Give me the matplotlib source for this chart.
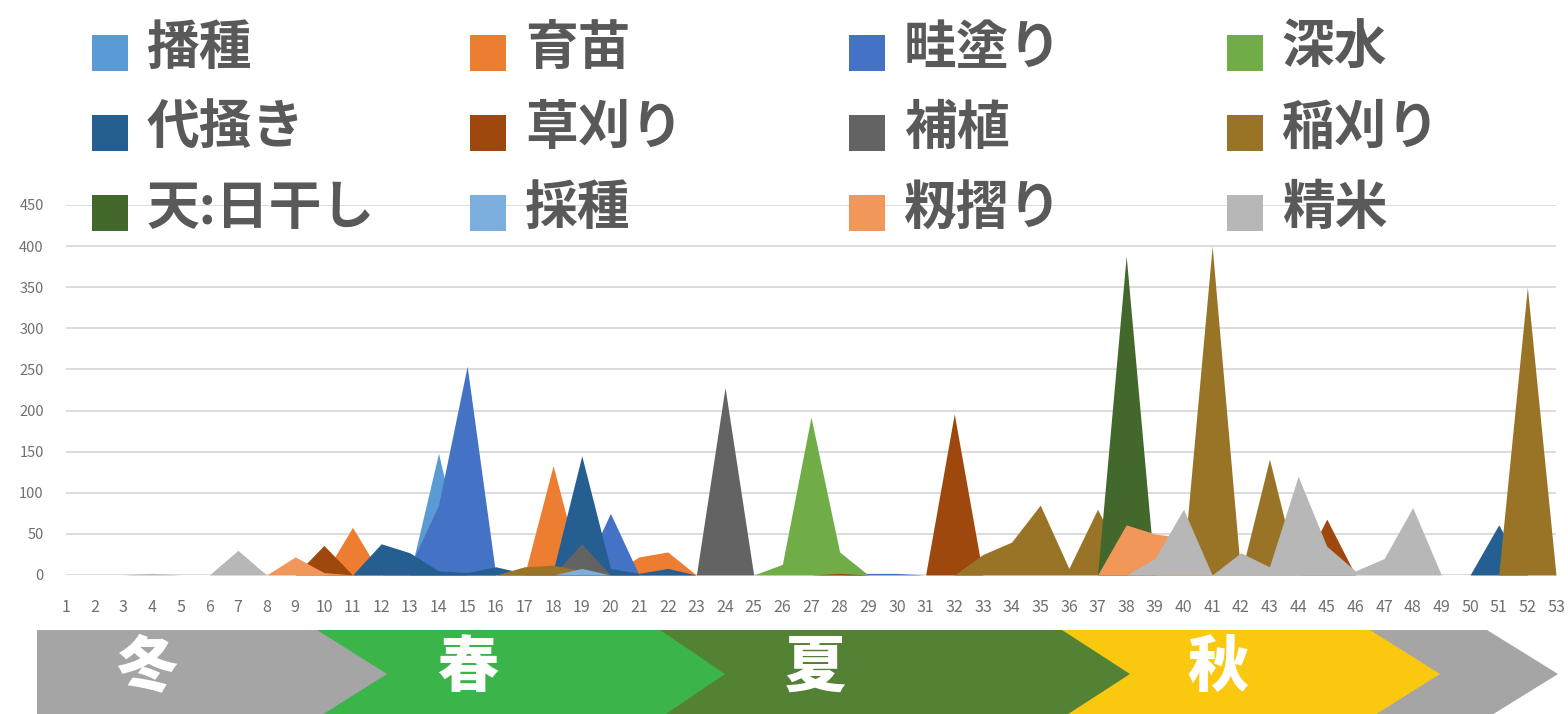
import numpy as np
import matplotlib
matplotlib.use("Agg")
from matplotlib import pyplot as plt
from matplotlib.patches import Polygon, Rectangle

plt.rcParams["font.family"] = ["Noto Sans CJK JP", "DejaVu Sans"]

weeks = np.arange(1, 54)

# weekly workload per task, weeks 1..53 (ten weeks per line)
sowing = [0, 0, 0, 0, 0, 0, 0, 0, 0, 0,
          0, 0, 0, 148, 0, 0, 0, 0, 0, 0,
          0, 0, 0, 0, 0, 0, 0, 0, 0, 0,
          0, 0, 0, 0, 0, 0, 0, 0, 0, 0,
          0, 0, 0, 0, 0, 0, 0, 0, 0, 0,
          0, 0, 0]
nursery = [0, 0, 0, 0, 0, 0, 0, 0, 0, 0,
           58, 0, 0, 0, 0, 0, 0, 133, 0, 0,
           22, 28, 0, 0, 0, 0, 0, 0, 0, 0,
           0, 0, 0, 0, 0, 0, 0, 0, 0, 0,
           0, 0, 0, 0, 0, 0, 0, 0, 0, 0,
           0, 0, 0]
levee = [0, 0, 0, 0, 0, 0, 0, 0, 0, 0,
         0, 0, 10, 85, 254, 0, 0, 0, 0, 75,
         0, 0, 0, 0, 0, 0, 0, 0, 2, 2,
         0, 0, 0, 0, 0, 0, 0, 0, 0, 0,
         0, 0, 0, 0, 0, 0, 0, 0, 0, 0,
         0, 0, 0]
deep_water = [0, 0, 0, 0, 0, 0, 0, 0, 0, 0,
              0, 0, 0, 0, 0, 0, 0, 0, 0, 0,
              0, 0, 0, 0, 0, 13, 192, 28, 0, 0,
              0, 0, 0, 0, 0, 0, 0, 0, 0, 0,
              0, 0, 0, 0, 0, 0, 0, 0, 0, 0,
              0, 0, 0]
puddling = [0, 0, 0, 0, 0, 0, 0, 0, 0, 0,
            0, 38, 27, 5, 3, 10, 2, 5, 145, 8,
            2, 8, 0, 0, 0, 0, 0, 0, 0, 0,
            0, 0, 0, 0, 0, 0, 0, 0, 0, 0,
            0, 0, 0, 0, 0, 0, 0, 0, 0, 0,
            61, 0, 0]
weeding = [0, 0, 0, 0, 0, 0, 0, 0, 0, 36,
           0, 0, 0, 0, 0, 0, 0, 0, 0, 0,
           0, 0, 0, 0, 0, 0, 0, 2, 0, 0,
           0, 196, 0, 0, 0, 0, 0, 0, 0, 0,
           0, 0, 0, 0, 68, 0, 0, 0, 0, 0,
           0, 0, 0]
replanting = [0, 0, 0, 0, 0, 0, 0, 0, 0, 0,
              0, 0, 0, 0, 0, 0, 0, 0, 38, 0,
              0, 0, 0, 228, 0, 0, 0, 0, 0, 0,
              0, 0, 0, 0, 0, 0, 0, 0, 0, 0,
              0, 0, 0, 0, 0, 0, 0, 0, 0, 0,
              0, 0, 0]
harvest = [0, 0, 0, 0, 0, 0, 0, 0, 0, 0,
           0, 0, 0, 0, 0, 0, 10, 12, 5, 0,
           0, 0, 0, 0, 0, 0, 0, 0, 0, 0,
           0, 0, 25, 40, 85, 8, 80, 10, 10, 15,
           400, 0, 141, 0, 0, 0, 0, 0, 0, 0,
           0, 350, 0]
sun_drying = [0, 0, 0, 0, 0, 0, 0, 0, 0, 0,
              0, 0, 0, 0, 0, 0, 0, 0, 0, 0,
              0, 0, 0, 0, 0, 0, 0, 0, 0, 0,
              0, 0, 0, 0, 0, 0, 0, 388, 0, 0,
              0, 0, 0, 0, 0, 0, 0, 0, 0, 0,
              0, 0, 0]
seed_taking = [0, 0, 0, 0, 0, 0, 0, 0, 0, 0,
               0, 0, 0, 0, 0, 0, 0, 0, 8, 0,
               0, 0, 0, 0, 0, 0, 0, 0, 0, 0,
               0, 0, 0, 0, 0, 0, 0, 0, 0, 0,
               0, 0, 0, 0, 0, 0, 0, 0, 0, 0,
               0, 0, 0]
hulling = [0, 0, 0, 0, 0, 0, 0, 0, 22, 3,
           0, 0, 0, 0, 0, 0, 0, 0, 0, 0,
           0, 0, 0, 0, 0, 0, 0, 0, 0, 0,
           0, 0, 0, 0, 0, 0, 0, 61, 50, 45,
           0, 0, 0, 0, 0, 0, 0, 0, 0, 0,
           0, 0, 0]
polishing = [0, 0, 0, 2, 0, 0, 30, 0, 0, 0,
             0, 0, 0, 0, 0, 0, 0, 0, 0, 0,
             0, 0, 0, 0, 0, 0, 0, 0, 0, 0,
             0, 0, 0, 0, 0, 0, 0, 0, 20, 80,
             0, 27, 10, 120, 35, 5, 20, 82, 0, 0,
             0, 0, 0]

names = ["播種", "育苗", "畦塗り", "深水",
         "代掻き", "草刈り", "補植", "稲刈り",
         "天:日干し", "採種", "籾摺り", "精米"]
series = [sowing, nursery, levee, deep_water,
          puddling, weeding, replanting, harvest,
          sun_drying, seed_taking, hulling, polishing]
colors = ["#5B9BD5", "#ED7D31", "#4472C4", "#70AD47",
          "#255E91", "#9E480E", "#636363", "#9A7426",
          "#43682B", "#7CAFDD", "#F1975A", "#B7B7B7"]

seasons = ["冬", "春", "夏", "秋", ""]
season_colors = ["#A5A5A5", "#3BB44A", "#548235", "#FAC80F", "#A5A5A5"]

W, H = 1568, 714
fig = plt.figure(figsize=(W / 100, H / 100), dpi=100)
ax = fig.add_axes([66 / W, 1 - 575 / H, (1556 - 66) / W, 370 / H])

# areas drawn in series order, later ones cover earlier ones
for vals, color in zip(series, colors):
    ax.fill_between(weeks, 0, vals, color=color, lw=0)

ax.set_xlim(1, 53)
ax.set_ylim(0, 450)
ax.set_xticks(weeks)
ax.set_yticks(np.arange(0, 451, 50))
ax.yaxis.grid(True, color="#d9d9d9", lw=1.3)
ax.set_axisbelow(True)
for s in ax.spines.values():
    s.set_visible(False)
ax.tick_params(axis="x", length=0, pad=17, labelsize=11.5, labelcolor="#707070")
ax.tick_params(axis="y", length=0, pad=16, labelsize=10.5, labelcolor="#707070")

# overlay in pixel units for legend and season banner
ov = fig.add_axes([0, 0, 1, 1])
ov.set_xlim(0, W)
ov.set_ylim(H, 0)
ov.axis("off")

for i, (name, color) in enumerate(zip(names, colors)):
    row, col = divmod(i, 4)
    sx = 92 + col * 378.3
    sy = 35 + row * 80
    ov.add_patch(Rectangle((sx, sy), 36, 36, color=color, lw=0))
    ov.text(sx + 55, sy + 29, name, fontsize=38, fontweight="bold",
            color="#595959", va="baseline", ha="left")

# chevron banner: left edge, top-right corner, tip depth, label x
chev_left = [37, 293, 655, 1045, 1365]
chev_right = [317, 660, 1062, 1370, 1487]
chev_depth = [70, 65, 68, 70, 71]
label_x = [147, 468, 815, 1218, 0]
top, mid, bot = 630, 674, 718

for i in reversed(range(len(seasons))):
    L, R, d = chev_left[i], chev_right[i], chev_depth[i]
    pts = [(L, top), (R, top), (R + d, mid), (R, bot), (L, bot)]
    ov.add_patch(Polygon(pts, closed=True, color=season_colors[i], lw=0))
    if seasons[i]:
        ov.text(label_x[i], 668, seasons[i], fontsize=44, fontweight="heavy",
                color="white", ha="center", va="center")

fig.savefig("out.png", dpi=100)
